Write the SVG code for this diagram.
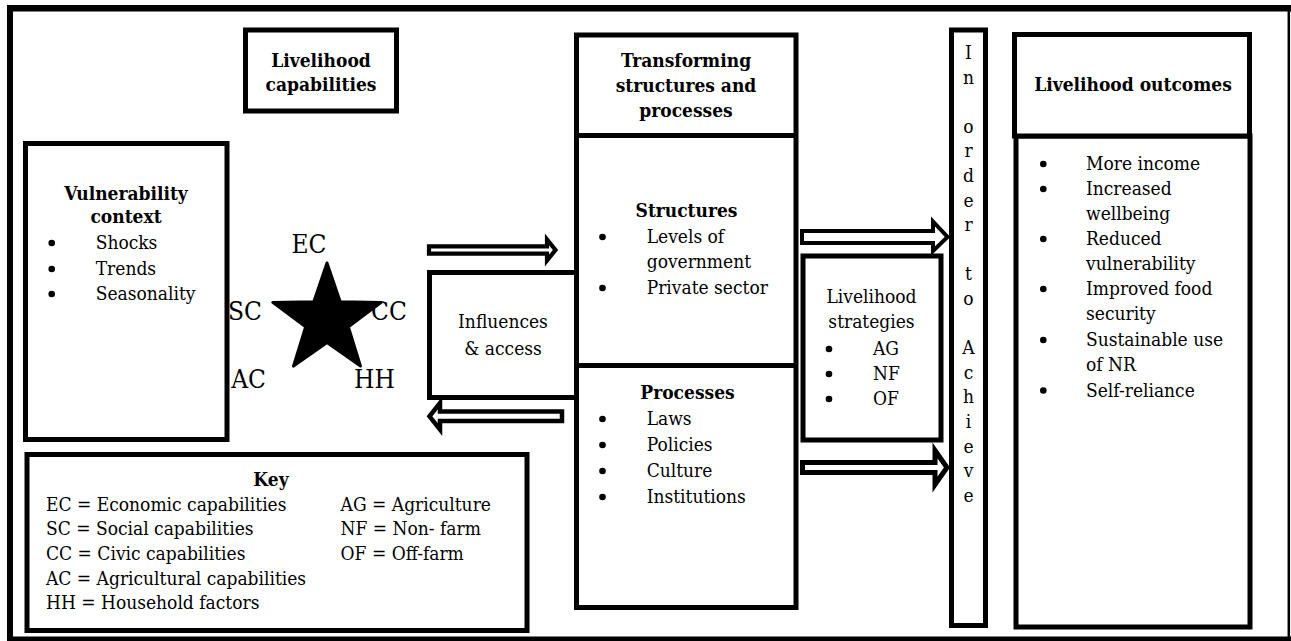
<svg xmlns="http://www.w3.org/2000/svg" width="1291" height="641" viewBox="0 0 1291 641">
  <style>
    .box { fill: #fff; stroke: #000; stroke-width: 5; }
    .rule { stroke: #000; stroke-width: 5; fill: none; }
    .frame { stroke: #000; fill: none; }
    text { font-family: 'DejaVu Serif', serif; font-stretch: condensed; font-size: 19px; fill: #000; }
    .b { font-weight: bold; }
    .c { text-anchor: middle; }
    .dot { fill: #000; }
    .lbl { font-size: 26px; }
    .arrow { fill: #fff; stroke: #000; stroke-linejoin: miter; stroke-miterlimit: 10; }
  </style>

  <rect width="1291" height="641" fill="#fff"/>

  <!-- outer frame: heavy top/left/bottom, light right side -->
  <g id="frame">
    <line class="frame" x1="7" y1="8.3" x2="1291" y2="8.3" stroke-width="6.5"/>
    <line class="frame" x1="10" y1="5" x2="10" y2="641" stroke-width="6"/>
    <line class="frame" x1="7" y1="639" x2="1291" y2="639" stroke-width="5"/>
    <line class="frame" x1="1288.8" y1="5" x2="1288.8" y2="641" stroke-width="2.5"/>
  </g>

  <g id="livelihood-capabilities">
    <rect class="box" x="245.5" y="30" width="151" height="81"/>
    <text class="b c" x="321" y="67">Livelihood</text>
    <text class="b c" x="321" y="91">capabilities</text>
  </g>

  <!-- capability star with its five labels -->
  <g id="capability-star">
    <text class="lbl" x="291.5" y="253">EC</text>
    <text class="lbl" x="262" y="320" text-anchor="end">SC</text>
    <text class="lbl" x="371" y="320">CC</text>
    <text class="lbl" x="266" y="388" text-anchor="end">AC</text>
    <text class="lbl" x="354" y="388">HH</text>
    <polygon points="327,263 340.2,301.8 381.2,302.4 348.4,326.9 360.5,366.1 327,342.5 293.5,366.1 305.6,326.9 272.8,302.4 313.8,301.8"
             fill="#000" stroke="#000" stroke-width="3" stroke-linejoin="round"/>
  </g>

  <g id="vulnerability-context">
    <rect class="box" x="25.5" y="143.5" width="201.5" height="296"/>
    <text class="b c" x="126" y="200">Vulnerability</text>
    <text class="b c" x="126" y="223">context</text>
    <circle class="dot" cx="51.7" cy="243" r="3.3"/>
    <text x="95.7" y="249">Shocks</text>
    <circle class="dot" cx="51.7" cy="269" r="3.3"/>
    <text x="95.7" y="275">Trends</text>
    <circle class="dot" cx="51.7" cy="294" r="3.3"/>
    <text x="95.7" y="300">Seasonality</text>
  </g>

  <g id="influences-access">
    <rect class="box" x="429.5" y="272.5" width="147" height="125"/>
    <text class="c" x="503" y="328">Influences</text>
    <text class="c" x="503" y="355">&amp; access</text>
  </g>

  <g id="transforming-structures">
    <rect class="box" x="576.5" y="35" width="219.5" height="572.5"/>
    <line class="rule" x1="576.5" y1="135.5" x2="796" y2="135.5"/>
    <line class="rule" x1="576.5" y1="365.5" x2="796" y2="365.5"/>
    <text class="b c" x="686" y="67">Transforming</text>
    <text class="b c" x="686" y="92">structures and</text>
    <text class="b c" x="686" y="117">processes</text>

    <text class="b c" x="686.5" y="217">Structures</text>
    <circle class="dot" cx="602.5" cy="237" r="3.3"/>
    <text x="646.7" y="243">Levels of</text>
    <text x="646.7" y="268">government</text>
    <circle class="dot" cx="602.5" cy="288" r="3.3"/>
    <text x="646.7" y="294">Private sector</text>

    <text class="b c" x="687.5" y="399">Processes</text>
    <circle class="dot" cx="602.5" cy="419" r="3.3"/>
    <text x="646.7" y="425">Laws</text>
    <circle class="dot" cx="602.5" cy="445" r="3.3"/>
    <text x="646.7" y="451">Policies</text>
    <circle class="dot" cx="602.5" cy="471" r="3.3"/>
    <text x="646.7" y="477">Culture</text>
    <circle class="dot" cx="602.5" cy="497" r="3.3"/>
    <text x="646.7" y="503">Institutions</text>
  </g>

  <g id="livelihood-strategies">
    <rect class="box" x="803" y="256" width="138" height="184"/>
    <text class="c" x="871.5" y="303">Livelihood</text>
    <text class="c" x="871.5" y="328">strategies</text>
    <circle class="dot" cx="829" cy="349" r="3.3"/>
    <text x="873" y="355">AG</text>
    <circle class="dot" cx="829" cy="374" r="3.3"/>
    <text x="873" y="380">NF</text>
    <circle class="dot" cx="829" cy="399" r="3.3"/>
    <text x="873" y="405">OF</text>
  </g>

  <!-- narrow column with one letter per line -->
  <g id="in-order-to-achieve">
    <rect class="box" x="951.5" y="30" width="34" height="595.5"/>
    <text class="c" x="968.5" y="59">I</text>
    <text class="c" x="968.5" y="83.6">n</text>
    <text class="c" x="968.5" y="132.8">o</text>
    <text class="c" x="968.5" y="157.4">r</text>
    <text class="c" x="968.5" y="182">d</text>
    <text class="c" x="968.5" y="206.6">e</text>
    <text class="c" x="968.5" y="231.2">r</text>
    <text class="c" x="968.5" y="280.4">t</text>
    <text class="c" x="968.5" y="305">o</text>
    <text class="c" x="968.5" y="354.2">A</text>
    <text class="c" x="968.5" y="378.8">c</text>
    <text class="c" x="968.5" y="403.4">h</text>
    <text class="c" x="968.5" y="428">i</text>
    <text class="c" x="968.5" y="452.6">e</text>
    <text class="c" x="968.5" y="477.2">v</text>
    <text class="c" x="968.5" y="501.8">e</text>
  </g>

  <g id="livelihood-outcomes">
    <rect class="box" x="1016" y="136" width="234" height="491"/>
    <rect class="box" x="1014.5" y="34.5" width="235" height="101.5"/>
    <text class="b c" x="1133" y="91">Livelihood outcomes</text>
    <circle class="dot" cx="1043.3" cy="164" r="3.3"/>
    <text x="1086" y="170">More income</text>
    <circle class="dot" cx="1043.3" cy="189" r="3.3"/>
    <text x="1086" y="195">Increased</text>
    <text x="1086" y="220">wellbeing</text>
    <circle class="dot" cx="1043.3" cy="239" r="3.3"/>
    <text x="1086" y="245">Reduced</text>
    <text x="1086" y="270">vulnerability</text>
    <circle class="dot" cx="1043.3" cy="289" r="3.3"/>
    <text x="1086" y="295">Improved food</text>
    <text x="1086" y="320">security</text>
    <circle class="dot" cx="1043.3" cy="340" r="3.3"/>
    <text x="1086" y="346">Sustainable use</text>
    <text x="1086" y="371">of NR</text>
    <circle class="dot" cx="1043.3" cy="390.5" r="3.3"/>
    <text x="1086" y="396.5">Self-reliance</text>
  </g>

  <g id="key">
    <rect class="box" x="27" y="454.5" width="500" height="176"/>
    <text class="b c" x="271" y="486">Key</text>
    <text x="46" y="510.5">EC = Economic capabilities</text>
    <text x="46" y="535">SC = Social capabilities</text>
    <text x="46" y="560">CC = Civic capabilities</text>
    <text x="46" y="584.5">AC = Agricultural capabilities</text>
    <text x="46" y="609">HH = Household factors</text>
    <text x="340.6" y="510.5">AG = Agriculture</text>
    <text x="340.6" y="535">NF = Non- farm</text>
    <text x="340.6" y="560">OF = Off-farm</text>
  </g>

  <!-- hollow block arrows -->
  <g id="connectors">
    <polygon class="arrow" stroke-width="4.2" points="429,246.4 547,246.4 547,239.5 555.5,250 547,260.5 547,253.6 429,253.6"/>
    <polygon class="arrow" stroke-width="4.5" points="562,411.5 440,411.5 440,403 429.5,416.3 440,429.5 440,421 562,421"/>
    <polygon class="arrow" stroke-width="4" points="802,231 933,231 933,221.5 947.5,237 933,251 933,243 802,243"/>
    <polygon class="arrow" stroke-width="5" points="802.5,462.5 935,462.5 935,450.5 947,467.5 935,484.5 935,472.5 802.5,472.5"/>
  </g>
</svg>
